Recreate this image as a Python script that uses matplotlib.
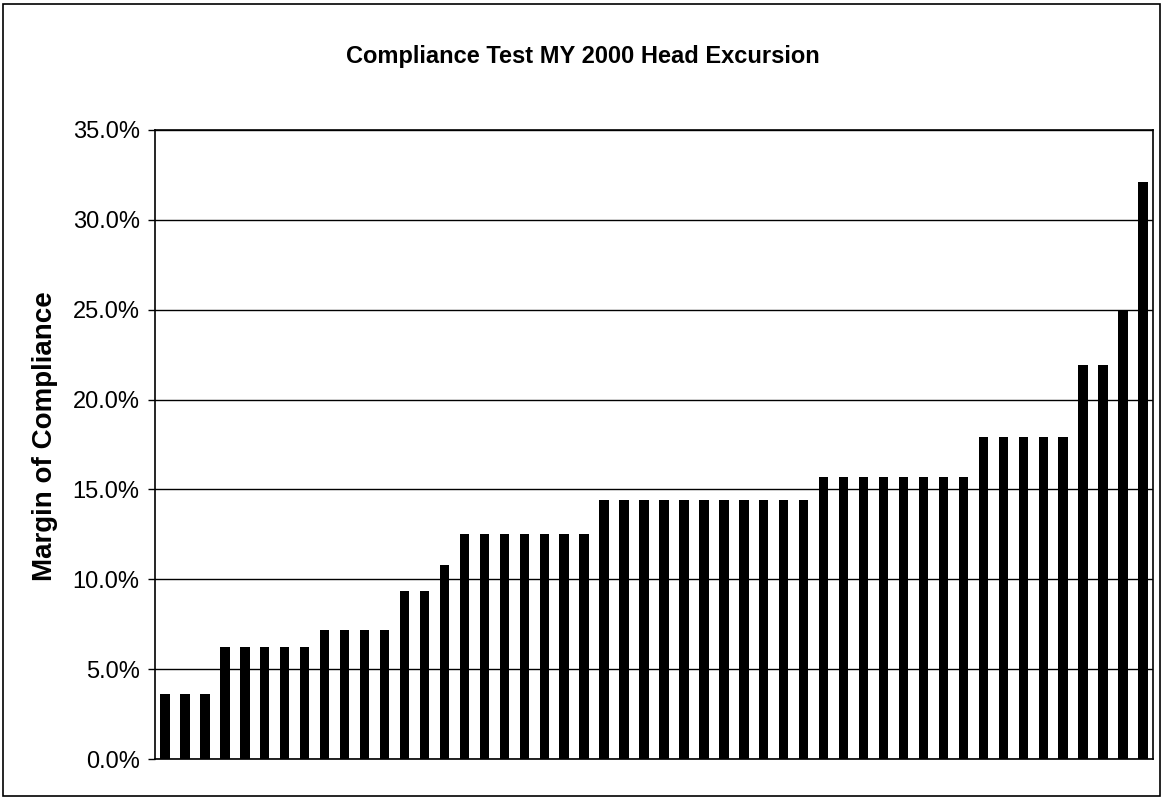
import matplotlib
matplotlib.use("Agg")
import matplotlib.pyplot as plt
from matplotlib.ticker import FuncFormatter, MultipleLocator
from matplotlib.patches import Rectangle

title = "Compliance Test MY 2000 Head Excursion"
ylabel = "Margin of Compliance"

# margin of compliance (%) for each test, sorted ascending
margins = ([3.6] * 3 + [6.25] * 5 + [7.2] * 4 + [9.35] * 2 + [10.8] +
           [12.5] * 7 + [14.4] * 11 + [15.7] * 8 + [17.9] * 5 +
           [21.9] * 2 + [25.0] + [32.1])
positions = list(range(len(margins)))

plt.rcParams['font.family'] = ['Liberation Sans', 'DejaVu Sans']

fig = plt.figure(figsize=(11.64, 7.98), dpi=100)
ax = fig.add_axes([155 / 1164, 39 / 798, 998 / 1164, 629 / 798])

ax.bar(positions, margins, width=0.47, color='black', zorder=3)

ax.set_xlim(-0.5, len(margins) - 0.5)
ax.set_ylim(0, 35)
ax.yaxis.set_major_locator(MultipleLocator(5))
ax.yaxis.set_major_formatter(FuncFormatter(lambda v, p: f"{v:.1f}%"))
ax.grid(axis='y', color='black', linewidth=1.0, zorder=1)
ax.set_xticks([])
ax.tick_params(axis='y', direction='out', length=5, width=1, labelsize=17, pad=6)
for s in ax.spines.values():
    s.set_color('black')
    s.set_linewidth(1.2)

fig.text(45 / 1164, 1 - 436 / 798, ylabel, rotation=90, ha='center', va='center',
         fontsize=20, fontweight='bold')
fig.text(583 / 1164, 1 - 57 / 798, title, ha='center', va='center',
         fontsize=17, fontweight='bold')

fig.patches.append(Rectangle((3 / 1164, 2 / 798), 1157 / 1164, 792 / 798,
                             transform=fig.transFigure, fill=False,
                             edgecolor='black', linewidth=1.2))

fig.savefig("out.png", dpi=100, facecolor='white')
